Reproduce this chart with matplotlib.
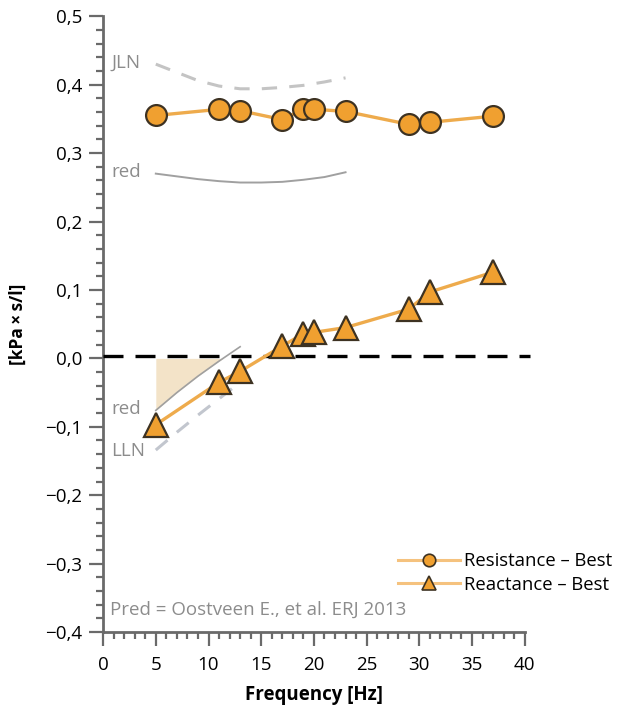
#!/usr/bin/env python3

import numpy as np
import matplotlib
matplotlib.use("Agg")
import matplotlib.pyplot as plt
from matplotlib.ticker import MultipleLocator, FuncFormatter

## measured values
freq = [5, 11, 13, 17, 19, 20, 23, 29, 31, 37]
resistance = [0.355, 0.364, 0.362, 0.349, 0.364, 0.364, 0.361, 0.342, 0.345, 0.354]
reactance = [-0.097, -0.035, -0.019, 0.018, 0.036, 0.038, 0.045, 0.072, 0.097, 0.126]

## predicted values (Oostveen 2013)
pred_r_freq = [5, 7, 9, 11, 13, 15, 17, 19, 21, 23]
pred_r_uln = [0.430, 0.418, 0.406, 0.398, 0.394, 0.394, 0.396, 0.399, 0.404, 0.410]
pred_r = [0.270, 0.266, 0.262, 0.259, 0.257, 0.257, 0.258, 0.261, 0.265, 0.272]

pred_x_freq = [5, 7, 9, 11, 13]
pred_x = [-0.076, -0.050, -0.026, -0.004, 0.017]
pred_x_lln = [-0.134, -0.108, -0.083, -0.059, -0.035]

orange_fill = "#f0a030"
orange_line = "#eeab4c"
edge = "#3d3222"
grey_txt = "#8c8c8c"

plt.rcParams["font.family"] = ["Open Sans", "DejaVu Sans"]

fig = plt.figure(figsize=(6.21, 7.07), dpi=100)
ax = fig.add_axes([0.166, 0.106, 0.679, 0.871])

## shaded area between predicted reactance and zero
px = np.array(pred_x_freq, dtype=float)
py = np.array(pred_x)
ax.fill_between(px, py, 0, where=py <= 0.001, color="#f3e3c8", lw=0, zorder=1,
                interpolate=True)

## predicted lines
ax.plot(pred_r_freq, pred_r_uln, color="#c4c4c4", lw=2.2, dashes=(5, 4), zorder=2)
ax.plot(pred_r_freq, pred_r, color="#a0a0a0", lw=1.4, zorder=2)
ax.plot(pred_x_freq, pred_x, color="#a0a0a0", lw=1.2, zorder=2)
ax.plot(pred_x_freq, pred_x_lln, color="#c2c6ce", lw=2.2, dashes=(5, 4), zorder=2)

## zero line
ax.plot([0, 40.5], [0.003, 0.003], color="black", lw=2.4, dashes=(6, 3.6),
        zorder=3, clip_on=False)

## measured series
ax.plot(freq, resistance, color=orange_line, lw=2.4, zorder=4)
ax.plot(freq, resistance, "o", ms=15, mfc=orange_fill, mec=edge, mew=1.6, zorder=5)
ax.plot(freq, reactance, color=orange_line, lw=2.4, zorder=4)
ax.plot(freq, reactance, "^", ms=17, mfc=orange_fill, mec=edge, mew=1.6, zorder=5)

## legend proxies
ax.plot([], [], color="#f5c27e", lw=2.2, marker="o", ms=9, mfc=orange_fill,
        mec=edge, mew=1.2, label="Resistance \u2013 Best")
ax.plot([], [], color="#f5c27e", lw=2.2, marker="^", ms=10, mfc=orange_fill,
        mec=edge, mew=1.2, label="Reactance \u2013 Best")
ax.legend(loc="lower right", bbox_to_anchor=(1.225, 0.05), frameon=False,
          fontsize=13.3, handlelength=3.4, handletextpad=0.2, labelspacing=0.3,
          borderaxespad=0)

## annotations
tkw = dict(color=grey_txt, fontsize=13.5, va="center")
ax.text(0.8, 0.432, "JLN", **tkw)
ax.text(0.8, 0.272, "red", **tkw)
ax.text(0.8, -0.074, "red", **tkw)
ax.text(0.8, -0.136, "LLN", **tkw)
ax.text(0.7, -0.368, "Pred = Oostveen E., et al. ERJ 2013", **tkw)

## axes
ax.set_xlim(0, 40)
ax.set_ylim(-0.4, 0.5)
for s in ["top", "right"]:
    ax.spines[s].set_visible(False)
for s in ["left", "bottom"]:
    ax.spines[s].set_color("#6a6a6a")
    ax.spines[s].set_linewidth(2)

ax.xaxis.set_major_locator(MultipleLocator(5))
ax.xaxis.set_minor_locator(MultipleLocator(1))
ax.yaxis.set_major_locator(MultipleLocator(0.1))
ax.yaxis.set_minor_locator(MultipleLocator(0.02))
ax.yaxis.set_major_formatter(FuncFormatter(
    lambda v, p: ("%.1f" % v).replace("-", "\u2212").replace(".", ",").replace("\u22120,0", "0,0")))

ax.tick_params(which="major", length=10, width=1.6, color="#6a6a6a",
               labelsize=13.5, pad=5)
ax.tick_params(which="minor", length=5, width=1.6, color="#6a6a6a")
ax.tick_params(axis="x", which="major", pad=7)

ax.set_xlabel("Frequency [Hz]", fontsize=13.5, fontweight="bold", labelpad=8)
ax.set_ylabel("[kPa\u2009\u00d7\u2009s/l]", fontsize=12.5, fontweight="bold")
ax.yaxis.set_label_coords(-0.18, 0.5)

plt.savefig("out.png", dpi=100)
